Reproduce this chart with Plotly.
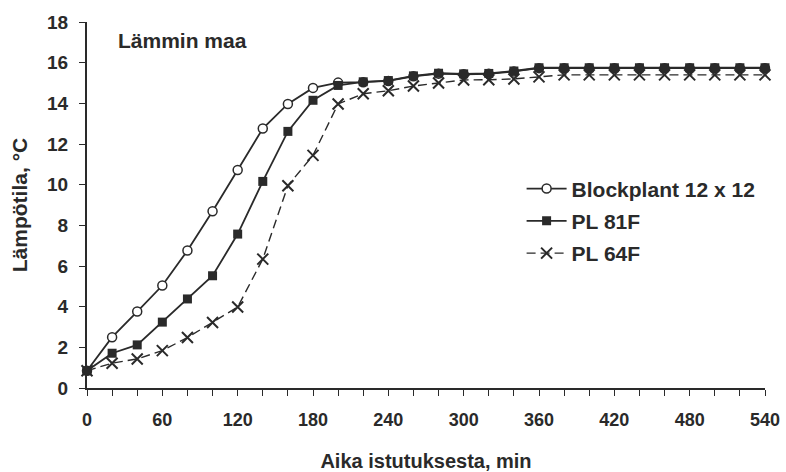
import plotly.graph_objects as go

minutes = list(range(0, 541, 20))

blockplant = [0.85, 2.5, 3.76, 5.04, 6.76, 8.69, 10.72, 12.76, 13.97, 14.76, 15.02,
              15.04, 15.1, 15.33, 15.46, 15.43, 15.45, 15.57, 15.73, 15.73, 15.73,
              15.73, 15.73, 15.73, 15.73, 15.73, 15.73, 15.73]
pl81f = [0.85, 1.71, 2.12, 3.24, 4.38, 5.52, 7.57, 10.16, 12.62, 14.15, 14.88,
         15.06, 15.12, 15.35, 15.48, 15.45, 15.47, 15.59, 15.75, 15.75, 15.75,
         15.75, 15.75, 15.75, 15.75, 15.75, 15.75, 15.75]
pl64f = [0.85, 1.22, 1.43, 1.84, 2.48, 3.22, 3.98, 6.34, 9.95, 11.44, 13.97,
         14.47, 14.62, 14.85, 15.0, 15.15, 15.16, 15.2, 15.3, 15.4, 15.4,
         15.4, 15.4, 15.4, 15.4, 15.4, 15.4, 15.4]

series_names = ["Blockplant 12 x 12", "PL 81F", "PL 64F"]
x_tick_vals = list(range(0, 541, 20))
x_tick_text = [str(v) if v % 60 == 0 else "" for v in x_tick_vals]
y_tick_vals = list(range(0, 19, 2))

ink = "#2a2a2a"
fam = "Liberation Sans, Arial, sans-serif"

fig = go.Figure()
fig.add_trace(go.Scatter(
    x=minutes, y=blockplant, name=series_names[0], legendgroup="a",
    mode="lines+markers", cliponaxis=False,
    line=dict(color=ink, width=1.8),
    marker=dict(symbol="circle", size=9, color="white", line=dict(color=ink, width=1.5)),
))
fig.add_trace(go.Scatter(
    x=minutes, y=pl81f, name=series_names[1], legendgroup="b",
    mode="lines+markers", cliponaxis=False,
    line=dict(color=ink, width=1.8),
    marker=dict(symbol="square", size=9, color=ink, line=dict(color=ink, width=0)),
))
fig.add_trace(go.Scatter(
    x=minutes, y=pl64f, name=series_names[2], legendgroup="c",
    mode="lines+markers", cliponaxis=False,
    line=dict(color=ink, width=1.4, dash="9px,5px"),
    marker=dict(symbol="x-thin", size=11, color=ink, line=dict(color=ink, width=2)),
))

fig.update_layout(
    width=786, height=472,
    margin=dict(l=87, r=21, t=22, b=84),
    paper_bgcolor="white", plot_bgcolor="white",
    font=dict(family=fam, color=ink),
    showlegend=True,
    legend=dict(
        x=0.641, y=0.6, xanchor="left", yanchor="top",
        bgcolor="rgba(0,0,0,0)", tracegroupgap=2,
        font=dict(family=fam, size=21, color=ink, weight="bold"),
        itemwidth=40,
    ),
    xaxis=dict(
        range=[0, 540], showgrid=False, zeroline=False, automargin=False,
        showline=True, linecolor=ink, linewidth=2,
        tickmode="array", tickvals=x_tick_vals, ticktext=x_tick_text,
        ticks="outside", ticklen=6, tickwidth=1.3, tickcolor=ink,
        ticklabelstandoff=8,
        tickfont=dict(family=fam, size=18, color=ink, weight="bold"),
        title=dict(text="Aika istutuksesta, min", standoff=27,
                   font=dict(family=fam, size=20, color=ink, weight="bold")),
    ),
    yaxis=dict(
        range=[0, 18], showgrid=False, zeroline=False, automargin=False,
        showline=True, linecolor=ink, linewidth=2,
        tickmode="array", tickvals=y_tick_vals,
        ticks="outside", ticklen=6, tickwidth=1.3, tickcolor=ink,
        ticklabelstandoff=7,
        tickfont=dict(family=fam, size=19, color=ink, weight="bold"),
        title=dict(text="Lämpötila, °C", standoff=14,
                   font=dict(family=fam, size=21, color=ink, weight="bold")),
    ),
    annotations=[dict(
        text="Lämmin maa", xref="paper", yref="paper", x=0.043, y=0.95,
        xanchor="left", yanchor="middle", showarrow=False,
        font=dict(family=fam, size=21, color=ink, weight="bold"),
    )],
)

fig.write_html("out.html")
